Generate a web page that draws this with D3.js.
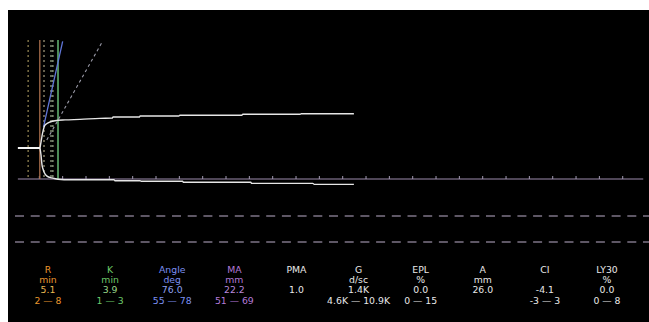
<!DOCTYPE html>
<html>
<head>
<meta charset="utf-8">
<script src="https://cdn.jsdelivr.net/npm/d3@7"></script>
<style>
  html, body { margin: 0; padding: 0; background: #fff; }
  svg { display: block; }
  text { font-family: "DejaVu Sans", Verdana, sans-serif; font-size: 9.3px; }
</style>
</head>
<body>
<svg id="chart" width="649" height="322"></svg>
<script>
// trace amplitudes (mm) over time (min), upper and lower branch
const flatTrace  = [[0.4, 0], [5.14, 0]];
const upperTrace = [
  [5.14, 0], [5.36, 2.3], [5.57, 4.6], [5.79, 6.5], [6.11, 8.5], [6.64, 9.4], [7.29, 10.0],
  [8.36, 10.5], [10.5, 10.8], [13.7, 11.0], [18.0, 11.4], [20.6, 11.5], [20.8, 11.9],
  [26.4, 11.9], [26.6, 12.3], [34.9, 12.3], [35.1, 12.6], [48.4, 12.6], [48.6, 13.0],
  [60.9, 13.0], [61.1, 13.2], [72.4, 13.2]
];
const lowerTrace = [
  [5.14, 0], [5.36, -2.7], [5.57, -6.5], [5.79, -8.1], [6.0, -9.2], [6.64, -10.8], [7.71, -11.5],
  [9.0, -12.0], [11.6, -12.2], [21.0, -12.2], [21.2, -12.6], [26.6, -12.6], [26.8, -12.8],
  [35.7, -12.8], [35.9, -13.2], [50.3, -13.2], [50.5, -13.6], [63.6, -13.6], [63.9, -14.0],
  [72.4, -14.0]
];

// markers (min)
const rTime  = 5.1;
const rkTime = 9.0;
const rangeMarks = [2.6, 6.0, 7.5, 7.9];
const angleLine  = [[5.9, 8.1], [10.0, 41.0]];
const normalLine = [[6.6, 3.1], [18.6, 41.2]];
const axisSpan   = [0.4, 134.4];
const timeTicks  = [5, 10, 15, 20, 25, 30, 35, 40, 45, 50, 55, 60, 65, 70, 75, 80, 85, 90, 95,
                    100, 105, 110, 115, 120, 125, 130];

// parameter table
const paramNames  = ['R', 'K', 'Angle', 'MA', 'PMA', 'G', 'EPL', 'A', 'CI', 'LY30'];
const paramUnits  = ['min', 'min', 'deg', 'mm', '', 'd/sc', '%', 'mm', '', '%'];
const paramValues = ['5.1', '3.9', '76.0', '22.2', '1.0', '1.4K', '0.0', '26.0', '-4.1', '0.0'];
const paramRanges = ['2 \u2014 8', '1 \u2014 3', '55 \u2014 78', '51 \u2014 69', '', '4.6K \u2014 10.9K',
                     '0 \u2014 15', '', '-3 \u2014 3', '0 \u2014 8'];

const COL  = { R: '#e8962e', K: '#6cc86a', Angle: '#7b8ff0', MA: '#b47ad8' };
const COL3 = { R: '#e8b850', K: '#9ad88a', Angle: '#8fa0f0', MA: '#b888dc' };

const svg = d3.select('#chart');
svg.append('rect').attr('x', 8).attr('y', 10).attr('width', 641).attr('height', 312).attr('fill', '#000');

const TOP = 40, BASE = 179;
const x = d3.scaleLinear().domain([0, 135]).range([16, 16 + 135 * 4.667]);
const y = d3.scaleLinear().domain([-20, 40]).range([148 + 52, 148 - 104]);
const line = d3.line().x(d => x(d[0])).y(d => y(d[1]));
const smooth = d3.line().x(d => x(d[0])).y(d => y(d[1])).curve(d3.curveMonotoneX);

// dashed reference rows
[216, 242].forEach(yy => {
  svg.append('line').attr('x1', 15).attr('x2', 649).attr('y1', yy).attr('y2', yy)
    .attr('stroke', '#7e7486').attr('stroke-width', 1.6).attr('stroke-dasharray', '9,6.7');
});

// baseline + ticks
svg.append('line').attr('x1', x(axisSpan[0])).attr('x2', x(axisSpan[1])).attr('y1', BASE).attr('y2', BASE)
  .attr('stroke', '#6a5e74').attr('stroke-width', 1.6);
svg.selectAll('.tick').data(timeTicks).join('line')
  .attr('x1', d => x(d)).attr('x2', d => x(d)).attr('y1', BASE).attr('y2', BASE - 3)
  .attr('stroke', '#a49cb4').attr('stroke-width', 1);

// range markers (dotted)
const dotCols = ['#9a8c58', '#a8a080', '#a0b090', '#a0b090'];
rangeMarks.forEach((t, i) => {
  svg.append('line').attr('x1', x(t)).attr('x2', x(t)).attr('y1', TOP).attr('y2', BASE)
    .attr('stroke', dotCols[i]).attr('stroke-width', 1.2).attr('stroke-dasharray', '2,3');
});
svg.append('line').attr('x1', x(rTime)).attr('x2', x(rTime)).attr('y1', TOP).attr('y2', BASE)
  .attr('stroke', '#a86e4c').attr('stroke-width', 1.3);
svg.append('line').attr('x1', x(rkTime)).attr('x2', x(rkTime)).attr('y1', TOP).attr('y2', BASE)
  .attr('stroke', '#78d888').attr('stroke-width', 1.3);

// angle lines
svg.append('path').attr('d', line(normalLine)).attr('fill', 'none')
  .attr('stroke', '#9a9aa8').attr('stroke-width', 1.1).attr('stroke-dasharray', '3,3');
svg.append('path').attr('d', line(angleLine)).attr('fill', 'none')
  .attr('stroke', '#6076d8').attr('stroke-width', 1.3);

// trace
svg.append('path').attr('d', line(flatTrace)).attr('fill', 'none').attr('stroke', '#f4f4f4').attr('stroke-width', 2);
[upperTrace, lowerTrace].forEach(tr => {
  svg.append('path').attr('d', smooth(tr)).attr('fill', 'none')
    .attr('stroke', '#e6e6e6').attr('stroke-width', 1.4);
});

// parameter table
const cx = d3.scalePoint().domain(paramNames).range([48, 607]);
const rows = [
  { vals: paramNames,  y: 272.5, cols: COL },
  { vals: paramUnits,  y: 282.8, cols: COL },
  { vals: paramValues, y: 293.2, cols: COL3 },
  { vals: paramRanges, y: 303.5, cols: COL }
];
rows.forEach(r => {
  svg.append('g').selectAll('text').data(paramNames).join('text')
    .attr('x', d => cx(d)).attr('y', r.y).attr('text-anchor', 'middle')
    .attr('fill', d => r.cols[d] || '#e8e8e8')
    .text((d, i) => r.vals[i]);
});
</script>
</body>
</html>
